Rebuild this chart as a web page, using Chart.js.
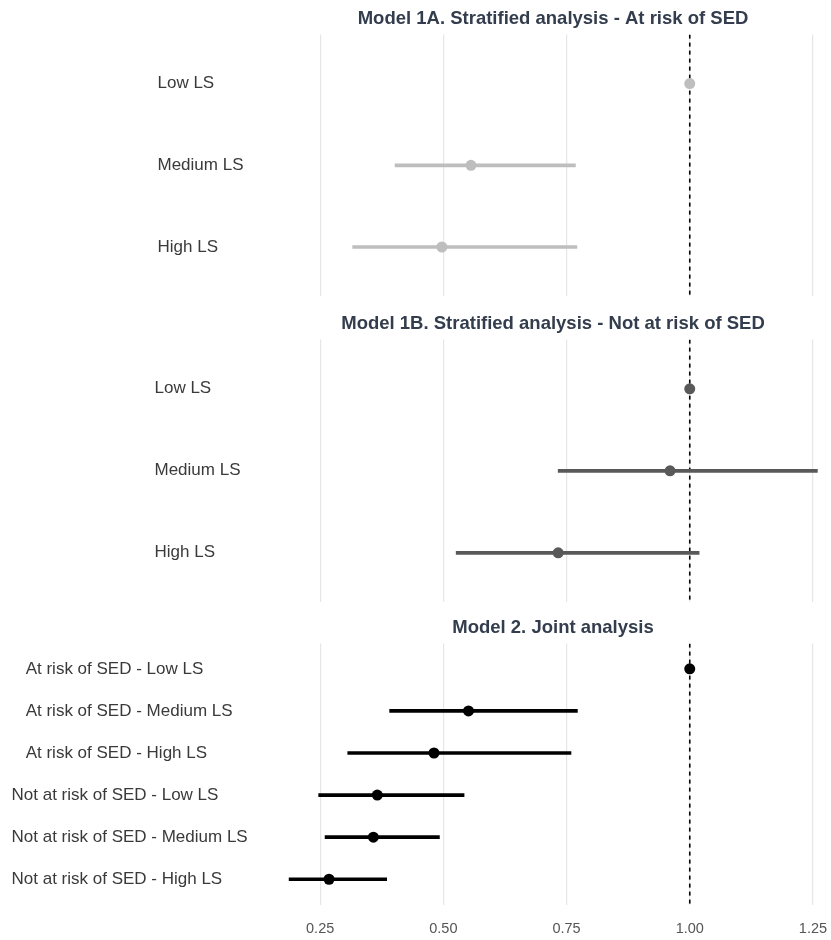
<!DOCTYPE html>
<html>
<head>
<meta charset="utf-8">
<script src="https://cdn.jsdelivr.net/npm/chart.js@4.4.1/dist/chart.umd.min.js"></script>
<style>
  html, body { margin: 0; padding: 0; background: #fff; width: 831px; height: 940px; overflow: hidden; }
  canvas { position: absolute; left: 0; }
</style>
</head>
<body>
<canvas id="model1a" width="850" height="288" style="top:8px;width:850px;height:288px"></canvas>
<canvas id="model1b" width="850" height="289" style="top:313px;width:850px;height:289px"></canvas>
<canvas id="model2" width="850" height="323" style="top:617px;width:850px;height:323px"></canvas>
<script>
// Shared x axis (odds ratio scale) and the reference value
const xTicks = [0.25, 0.50, 0.75, 1.00, 1.25];
const refValue = 1.0;

// Model 1A: stratified analysis, at risk of SED
const model1aTitle = 'Model 1A. Stratified analysis - At risk of SED';
const stratLabels = ['Low LS', 'Medium LS', 'High LS'];
const model1aEst  = [1.00, 0.556, 0.497];
const model1aLow  = [1.00, 0.402, 0.316];
const model1aHigh = [1.00, 0.768, 0.771];

// Model 1B: stratified analysis, not at risk of SED
const model1bTitle = 'Model 1B. Stratified analysis - Not at risk of SED';
const model1bEst  = [1.00, 0.960, 0.733];
const model1bLow  = [1.00, 0.733, 0.526];
const model1bHigh = [1.00, 1.259, 1.019];

// Model 2: joint analysis
const model2Title = 'Model 2. Joint analysis';
const jointLabels = [
  'At risk of SED - Low LS',
  'At risk of SED - Medium LS',
  'At risk of SED - High LS',
  'Not at risk of SED - Low LS',
  'Not at risk of SED - Medium LS',
  'Not at risk of SED - High LS'
];
const model2Est  = [1.00, 0.551, 0.481, 0.366, 0.358, 0.268];
const model2Low  = [1.00, 0.391, 0.306, 0.247, 0.260, 0.187];
const model2High = [1.00, 0.772, 0.759, 0.542, 0.492, 0.385];

const FONT = "'Liberation Sans', Arial, sans-serif";
const PLOT_LEFT = 262;   // left edge of every panel's plotting area

function drawPanel(canvasId, cfg) {
  const n = cfg.labels.length;
  const yMin = -0.6, yMax = n - 1 + 0.6;
  return new Chart(document.getElementById(canvasId), {
    data: {
      datasets: [
        {
          // dashed reference line at OR = 1
          type: 'line',
          data: [{ x: refValue, y: yMin }, { x: refValue, y: yMax }],
          borderColor: '#000',
          borderWidth: 1.6,
          borderDash: [4, 4],
          pointRadius: 0,
          order: 3
        },
        {
          // confidence intervals as floating horizontal bars
          type: 'bar',
          indexAxis: 'y',
          data: cfg.lo.map((l, i) => ({ y: i, x: [l, cfg.hi[i]] })),
          backgroundColor: cfg.color,
          borderWidth: 0,
          barThickness: 3,
          order: 2
        },
        {
          // point estimates
          type: 'scatter',
          data: cfg.est.map((e, i) => ({ x: e, y: i })),
          backgroundColor: cfg.color,
          borderWidth: 0,
          pointRadius: 5.5,
          order: 1
        }
      ]
    },
    options: {
      responsive: false,
      animation: false,
      events: [],
      layout: { autoPadding: false, padding: { left: cfg.labelLeft, right: 6, top: 0, bottom: 0 } },
      plugins: {
        legend: { display: false },
        tooltip: { enabled: false },
        title: {
          display: true,
          text: cfg.title,
          fullSize: false,
          color: '#333d4d',
          font: { family: FONT, size: 18.5, weight: 'bold' },
          padding: { top: 0, bottom: 4.4 }
        }
      },
      scales: {
        x: {
          type: 'linear',
          min: 0.132,
          max: 1.313,
          offset: false,
          afterBuildTicks: s => { s.ticks = xTicks.map(v => ({ value: v })); },
          afterFit: s => { s.height = cfg.showX ? 35.5 : 0; },
          grid: { color: '#e6e6e6', lineWidth: 1.2, drawTicks: false, offset: false },
          border: { display: false },
          ticks: {
            display: cfg.showX,
            padding: 15.5,
            maxRotation: 0,
            autoSkip: false,
            color: '#555',
            font: { family: FONT, size: 14.5 },
            callback: v => Number(v).toFixed(2)
          }
        },
        y: {
          type: 'linear',
          reverse: true,
          min: yMin,
          max: yMax,
          offset: false,
          afterBuildTicks: s => { s.ticks = cfg.labels.map((_, i) => ({ value: i })); },
          afterFit: s => {
            s.width = PLOT_LEFT - cfg.labelLeft;
            // labels sit well inside the panel, so no extra room above/below
            s.paddingTop = 0;
            s.paddingBottom = 0;
          },
          grid: { display: false, offset: false },
          border: { display: false },
          ticks: {
            crossAlign: 'far',
            autoSkip: false,
            color: '#3a3a3a',
            font: { family: FONT, size: 17 },
            callback: v => cfg.tickText(cfg.labels[v])
          }
        }
      }
    }
  });
}

drawPanel('model1a', {
  title: model1aTitle, labels: stratLabels,
  est: model1aEst, lo: model1aLow, hi: model1aHigh,
  color: '#bebebe', labelLeft: 157.5, showX: false,
  tickText: t => t
});

drawPanel('model1b', {
  title: model1bTitle, labels: stratLabels,
  est: model1bEst, lo: model1bLow, hi: model1bHigh,
  color: '#595959', labelLeft: 154.5, showX: false,
  tickText: t => t
});

drawPanel('model2', {
  title: model2Title, labels: jointLabels,
  est: model2Est, lo: model2Low, hi: model2High,
  color: '#000000', labelLeft: 11.5, showX: true,
  // at-risk rows sit slightly indented
  tickText: t => t.startsWith('At') ? '   ' + t : t
});
</script>
</body>
</html>
